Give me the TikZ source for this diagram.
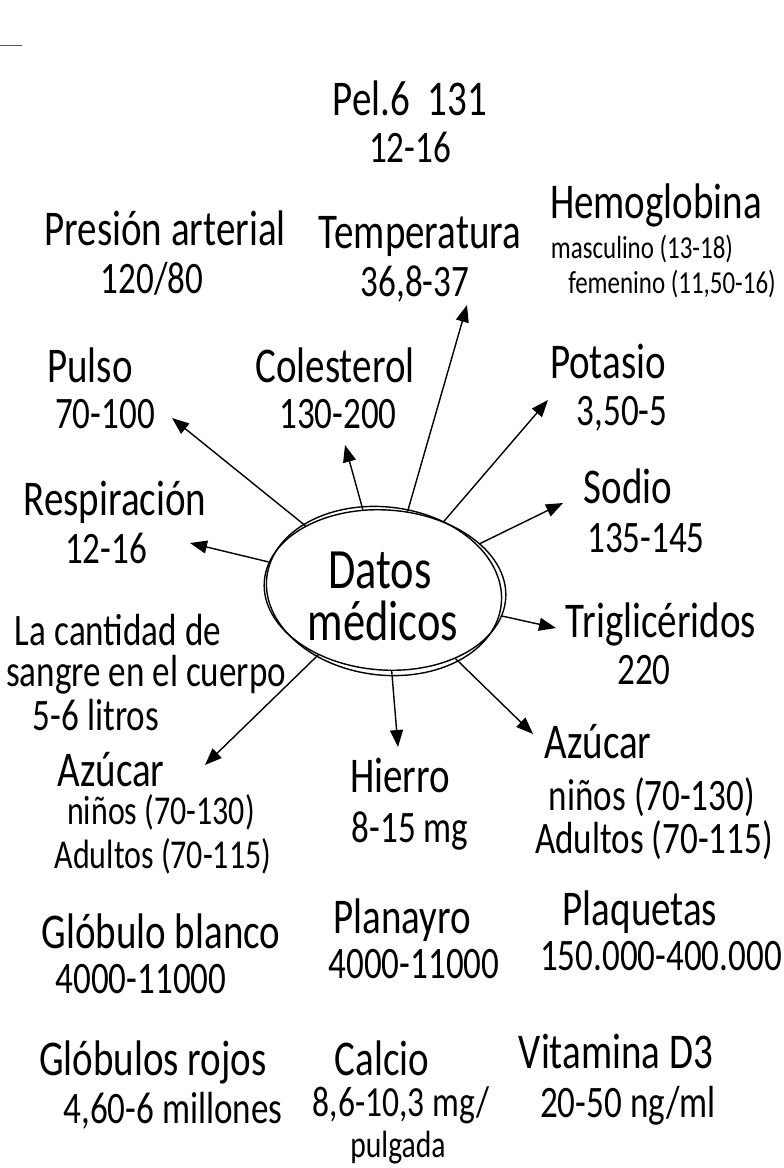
\documentclass[tikz,border=0pt]{standalone}
\usepackage{fontspec}
\setmainfont{Carlito}[FakeStretch=0.78]
\usetikzlibrary{arrows.meta,shapes.geometric}
\begin{document}
\begin{tikzpicture}[x=1pt,y=-1pt,
  big/.style={font=\fontsize{50}{54}\selectfont, inner sep=0pt, anchor=base},
  val/.style={font=\fontsize{45}{49}\selectfont, inner sep=0pt, anchor=base},
  vsm/.style={font=\fontsize{41}{44}\selectfont, inner sep=0pt, anchor=base},
  sml/.style={font=\fontsize{32}{35}\selectfont, inner sep=0pt, anchor=base},
  ctr/.style={font=\fontsize{57}{60}\selectfont, inner sep=0pt, anchor=base},
  arr/.style={line width=1.4pt, -{Triangle[length=17pt,width=13pt]}},
  pen/.style={line width=1.4pt}]
\useasboundingbox (0,0) rectangle (784,1168);
\fill[white] (0,0) rectangle (784,1168);
\coordinate (m1) at (0,45);
\coordinate (m2) at (22,45);
\draw[line width=1pt, gray!70!black] (m1) -- (m2);

% centre
\node[ellipse, minimum width=242, minimum height=160, inner sep=0pt, draw, pen, rotate=-4] (dm) at (385,590) {};
\draw[pen] (384,591) ellipse [x radius=118, y radius=84, rotate=-7];
\node[ctr] (d1) at (380,588) {Datos};
\node[ctr] (d2) at (383,640) {médicos};

% top
\node[big] (pel) at (410,115) {Pel.6\ \ 131};
\node[val] (pelv) at (410,162) {12-16};

\node[big] (pres) at (165,245) {Presión arterial};
\node[val] (presv) at (152,293) {120/80};

\node[big] (temp) at (420,248) {Temperatura};
\node[val] (tempv) at (415,296) {36,8-37};

\node[big] (hemo) at (656,218) {Hemoglobina};
\node[sml] (hemo1) at (642,258) {masculino (13-18)};
\node[sml] (hemo2) at (672,293) {femenino (11,50-16)};

\node[big] (pul) at (90,382) {Pulso};
\node[val] (pulv) at (105,428) {70-100};

\node[big] (col) at (335,382) {Colesterol};
\node[val] (colv) at (338,428) {130-200};

\node[big] (pot) at (608,378) {Potasio};
\node[val] (potv) at (622,425) {3,50-5};

\node[big] (sod) at (628,503) {Sodio};
\node[val] (sodv) at (646,552) {135-145};

\node[big] (res) at (115,515) {Respiración};
\node[val] (resv) at (106,563) {12-16};

\node[big] (tri) at (661,637) {Triglicéridos};
\node[val] (triv) at (644,684) {220};

\node[val] (can1) at (118,645) {La cantidad de};
\node[val] (can2) at (146,686) {sangre en el cuerpo};
\node[val] (can3) at (96,730) {5-6 litros};

\node[big] (azl) at (111,786) {Azúcar};
\node[vsm] (azl1) at (161,824) {niños (70-130)};
\node[vsm] (azl2) at (163,868) {Adultos (70-115)};

\node[big] (hie) at (400,792) {Hierro};
\node[val] (hiev) at (410,842) {8-15 mg};

\node[big] (azr) at (598,758) {Azúcar};
\node[val] (azr1) at (652,810) {niños (70-130)};
\node[val] (azr2) at (654,853) {Adultos (70-115)};

\node[big] (glb) at (161,948) {Glóbulo blanco};
\node[val] (glbv) at (141,993) {4000-11000};

\node[big] (pla) at (402,933) {Planayro};
\node[val] (plav) at (414,978) {4000-11000};

\node[big] (plq) at (640,925) {Plaquetas};
\node[val] (plqv) at (661,970) {150.000-400.000};

\node[big] (glr) at (153,1075) {Glóbulos rojos};
\node[val] (glrv) at (173,1123) {4,60-6 millones};

\node[big] (cal) at (382,1075) {Calcio};
\node[vsm, font=\fontsize{43}{46}\selectfont] (calv) at (401,1116) {8,6-10,3 mg/};
\node[vsm, font=\fontsize{38}{41}\selectfont] (calv2) at (398,1157) {pulgada};

\node[big] (vit) at (616,1068) {Vitamina D3};
\node[val] (vitv) at (628,1117) {20-50 ng/ml};

% arrow tips
\coordinate (tPul) at (172,418);
\coordinate (tCol) at (345,445);
\coordinate (tTem) at (467,305);
\coordinate (tPot) at (548,400);
\coordinate (tSod) at (563,503);
\coordinate (tRes) at (190,543);
\coordinate (tTri) at (556,628);
\coordinate (tAzl) at (205,765);
\coordinate (tHie) at (398,747);
\coordinate (tAzr) at (533,734);

\draw[arr] (dm) -- (tPul);
\draw[arr] (dm) -- (tCol);
\draw[arr] (dm) -- (tTem);
\draw[arr] (dm) -- (tPot);
\draw[arr] (dm) -- (tSod);
\draw[arr] (dm) -- (tRes);
\draw[arr] (dm) -- (tTri);
\draw[arr] (dm) -- (tAzl);
\draw[arr] (dm) -- (tHie);
\draw[arr] (dm) -- (tAzr);
\end{tikzpicture}
\end{document}
